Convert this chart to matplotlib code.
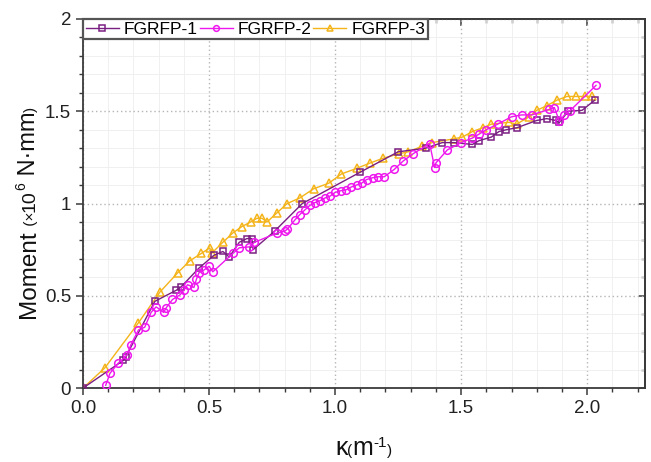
import matplotlib
matplotlib.use("Agg")
import matplotlib.pyplot as plt
import matplotlib.transforms as mtransforms
from matplotlib.ticker import MultipleLocator, FormatStrFormatter, FuncFormatter

plt.rcParams['font.family'] = ['Liberation Sans', 'DejaVu Sans']

# FGRFP-1 (squares)
k1 = [0, 0.16, 0.17, 0.285, 0.37, 0.39, 0.46, 0.52, 0.555, 0.58, 0.62, 0.65, 0.67, 0.675,
      0.76, 0.87, 1.10, 1.25, 1.36, 1.425, 1.47, 1.545, 1.57, 1.62, 1.65, 1.68, 1.72,
      1.80, 1.84, 1.875, 1.89, 1.925, 1.98, 2.03]
m1 = [0, 0.15, 0.17, 0.47, 0.53, 0.55, 0.65, 0.72, 0.74, 0.71, 0.79, 0.81, 0.81, 0.75,
      0.85, 1.00, 1.17, 1.28, 1.30, 1.33, 1.33, 1.32, 1.34, 1.36, 1.39, 1.40, 1.41,
      1.45, 1.46, 1.45, 1.44, 1.50, 1.505, 1.56]

# FGRFP-2 (circles)
k2 = [0.09, 0.107, 0.14, 0.175, 0.19, 0.22, 0.245, 0.27, 0.29, 0.32, 0.33, 0.355, 0.385,
      0.40, 0.415, 0.44, 0.45, 0.46, 0.48, 0.50, 0.515, 0.595, 0.62, 0.66, 0.68, 0.77,
      0.80, 0.81, 0.84, 0.86, 0.88, 0.90, 0.92, 0.94, 0.96, 0.98, 1.0, 1.025, 1.045,
      1.065, 1.085, 1.105, 1.125, 1.15, 1.17, 1.195, 1.235, 1.27, 1.31, 1.375, 1.395,
      1.40, 1.445, 1.50, 1.545, 1.57, 1.60, 1.645, 1.70, 1.74, 1.78, 1.85, 1.87, 1.89,
      1.91, 1.93, 2.035]
m2 = [0.015, 0.08, 0.135, 0.18, 0.235, 0.315, 0.33, 0.41, 0.44, 0.41, 0.435, 0.48, 0.505,
      0.53, 0.56, 0.545, 0.59, 0.625, 0.64, 0.66, 0.63, 0.73, 0.76, 0.765, 0.79, 0.84,
      0.85, 0.86, 0.91, 0.94, 0.965, 0.99, 1.005, 1.015, 1.03, 1.04, 1.06, 1.07, 1.075,
      1.09, 1.10, 1.11, 1.13, 1.14, 1.145, 1.145, 1.185, 1.23, 1.27, 1.325, 1.195,
      1.22, 1.29, 1.33, 1.355, 1.375, 1.40, 1.43, 1.47, 1.48, 1.48, 1.51, 1.52, 1.445,
      1.48, 1.50, 1.64]

# FGRFP-3 (triangles)
k3 = [0, 0.087, 0.218, 0.305, 0.376, 0.424, 0.47, 0.503, 0.51, 0.555, 0.594, 0.63, 0.665,
      0.69, 0.71, 0.73, 0.77, 0.81, 0.86, 0.915, 0.975, 1.025, 1.085, 1.14, 1.19, 1.255,
      1.29, 1.345, 1.385, 1.47, 1.505, 1.545, 1.585, 1.62, 1.69, 1.72, 1.77, 1.80, 1.84,
      1.88, 1.92, 1.955, 1.99, 2.02]
m3 = [0, 0.11, 0.35, 0.52, 0.625, 0.69, 0.73, 0.76, 0.73, 0.79, 0.84, 0.875, 0.90,
      0.92, 0.92, 0.90, 0.95, 1.0, 1.03, 1.08, 1.11, 1.16, 1.19, 1.22, 1.245, 1.27,
      1.28, 1.31, 1.33, 1.35, 1.36, 1.39, 1.41, 1.43, 1.44, 1.43, 1.47, 1.505, 1.53,
      1.56, 1.58, 1.58, 1.58, 1.58]

c1, c2, c3 = '#7a1f82', '#ee18ee', '#f4b41a'

fig = plt.figure(figsize=(6.51, 4.62), dpi=100)
ax = fig.add_axes([0.1275, 0.160, 0.8635, 0.799])

ax.plot(k1, m1, color=c1, marker='s', ms=5, mfc='none', mew=1.1, lw=1.0, label='FGRFP-1', zorder=3)
ax.plot(k2, m2, color=c2, marker='o', ms=5.5, mfc='none', mew=1.1, lw=1.0, label='FGRFP-2', zorder=4)
ax.plot(k3, m3, color=c3, marker='^', ms=6, mfc='none', mew=1.1, lw=1.0, label='FGRFP-3', zorder=2)

ax.set_xlim(0, 2.23)
ax.set_ylim(0, 2)
ax.xaxis.set_major_locator(MultipleLocator(0.5))
ax.xaxis.set_minor_locator(MultipleLocator(0.1))
ax.yaxis.set_major_locator(MultipleLocator(0.5))
ax.yaxis.set_minor_locator(MultipleLocator(0.1))
ax.xaxis.set_major_formatter(FormatStrFormatter('%.1f'))
ax.yaxis.set_major_formatter(FuncFormatter(lambda v, p: '%g' % v))

ax.grid(True, which='minor', color='#eeeeee', lw=0.6, ls='-')
ax.grid(True, which='major', color='#b5b5b5', lw=1.0, ls=(0, (1, 2)))
ax.set_axisbelow(True)

for s in ax.spines.values():
    s.set_color('#3a3a3a')
    s.set_linewidth(1.3)

ax.tick_params(which='both', direction='out', colors='#3a3a3a', labelsize=13.5, labelcolor='#222222')
ax.tick_params(which='major', length=5, width=1.1)
ax.tick_params(which='minor', length=3, width=1.0)

top = ax.secondary_xaxis('top')
top.xaxis.set_major_locator(MultipleLocator(0.5))
top.xaxis.set_minor_locator(MultipleLocator(0.1))
top.tick_params(which='both', direction='in', labeltop=False, colors='#3a3a3a')
top.tick_params(which='major', length=5, width=1.1)
top.tick_params(which='minor', length=3, width=1.0)
right = ax.secondary_yaxis('right')
right.yaxis.set_major_locator(MultipleLocator(0.5))
right.yaxis.set_minor_locator(MultipleLocator(0.1))
right.tick_params(which='both', direction='in', labelright=False, colors='#3a3a3a')
right.tick_params(which='major', length=5, width=1.1)
right.tick_params(which='minor', length=3, width=1.0)
for sa in (top, right):
    for s in sa.spines.values():
        s.set_color('#3a3a3a')
        s.set_linewidth(1.3)

leg = ax.legend(loc='upper left', ncol=3, fontsize=12.5, frameon=True, fancybox=False,
                edgecolor='#555555', borderaxespad=0, handlelength=1.9, handletextpad=0.3,
                columnspacing=0.1, borderpad=0.15, markerscale=0.75)
leg.get_frame().set_linewidth(1.6)
leg.get_frame().set_alpha(1)

# axis labels built from pieces of different sizes
fig.canvas.draw()
renderer = fig.canvas.get_renderer()
ident = mtransforms.IdentityTransform()


def chain(pieces, x, y, vertical):
    for text, size, shift in pieces:
        if vertical:
            t = fig.text(x - shift, y, text, fontsize=size, rotation=90, rotation_mode='anchor',
                         ha='left', va='baseline', transform=ident, color='#111111')
            y = t.get_window_extent(renderer).y1
        else:
            t = fig.text(x, y + shift, text, fontsize=size, ha='left', va='baseline',
                         transform=ident, color='#111111')
            x = t.get_window_extent(renderer).x1


chain([('Moment', 17.5, 0), (' (×', 11, 0), ('10', 14, 0), ('6', 10, 10),
       (' N·mm', 17, 0), (')', 11, 0)],
      35, 462 - 318, True)
chain([('κ', 18, 0), ('(', 11, 0), ('m', 18, 0), ('-1', 11, 8), (')', 11, 0)],
      335, 7, False)

fig.savefig('out.png', dpi=100)
